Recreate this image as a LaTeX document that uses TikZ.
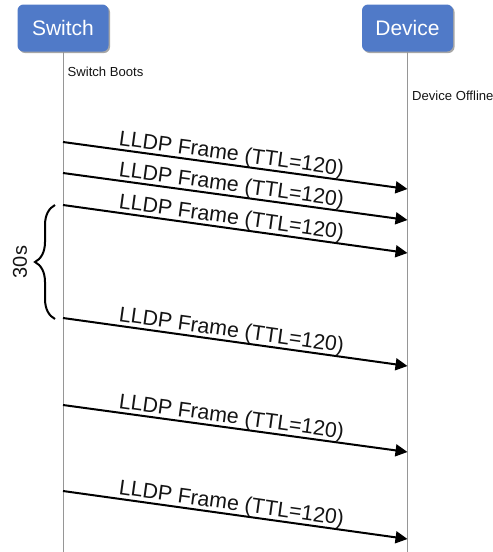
\documentclass[tikz,border=0pt]{standalone}
\usepackage{fontspec}
\setmainfont{Liberation Sans}
\usetikzlibrary{arrows.meta,shadows,decorations.pathreplacing}
\definecolor{boxblue}{RGB}{80,122,200}
\definecolor{lifegray}{RGB}{150,150,150}
\definecolor{txt}{RGB}{20,20,20}
\tikzset{
  actor/.style={draw=none, fill=boxblue, rounded corners=6pt, minimum width=91pt, minimum height=47pt,
    text=white, font=\fontsize{21}{25}\selectfont, inner sep=0pt,
    drop shadow={shadow xshift=1.5pt, shadow yshift=-1.5pt, opacity=0.35, fill=black}},
  life/.style={draw=lifegray, line width=1pt},
  msg/.style={draw=black, line width=2pt, -{Triangle[length=12pt,width=12pt]}, shorten >=0pt},
  lbl/.style={sloped, above, inner sep=0pt, outer sep=0pt, text=txt, font=\fontsize{21.3}{25}\selectfont},
  note/.style={anchor=base west, inner sep=0pt, text=txt, font=\fontsize{13.1}{15}\selectfont},
}
\begin{document}
\begin{tikzpicture}[x=1pt,y=1pt]
\useasboundingbox (0,0) rectangle (493,-552);
\node[actor] (sw) at (63,-28) {Switch};
\node[actor] (dv) at (407.5,-28) {Device};
\coordinate (swend) at (63,-552);
\coordinate (dvend) at (407.5,-552);
\draw[life] (sw.south) -- (swend);
\draw[life] (dv.south) -- (dvend);
\node[note] (boots) at (67.5,-76) {Switch Boots};
\node[note] (offline) at (412,-100) {Device Offline};
\foreach \i/\ys/\yd in {1/142/189, 2/173/220, 3/205/253, 4/318/366, 5/405/452, 6/491/539}{
  \coordinate (s\i) at (63,-\ys);
  \coordinate (d\i) at (407.5,-\yd);
  \draw[msg] (s\i) -- node[lbl, pos=0.485] (m\i) {LLDP Frame (TTL=120)} (d\i);
}
\coordinate (bt) at (55,-205);
\coordinate (bb) at (55,-319);
\draw[line width=2pt, decorate, decoration={brace, amplitude=20pt, aspect=0.5}] (bb) -- (bt);
\node[rotate=90, text=txt, font=\fontsize{20}{24}\selectfont, inner sep=0pt] (period) at (20,-262) {30s};
\end{tikzpicture}
\end{document}
